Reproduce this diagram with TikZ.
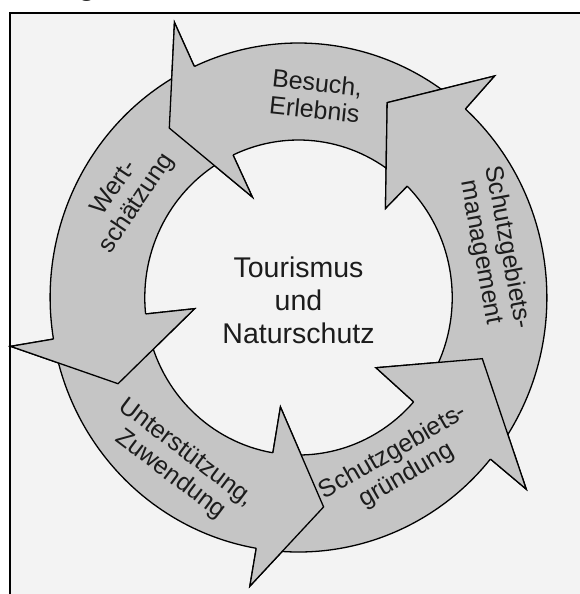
\documentclass[tikz,border=0pt]{standalone}
\usepackage{fontspec}
\setmainfont{Liberation Sans}
\definecolor{ringgray}{RGB}{197,197,197}
\definecolor{panel}{RGB}{243,243,243}
\definecolor{ink}{RGB}{28,28,28}
\newcommand\ringin{157.5}
\newcommand\ringout{254.5}
% #1 tail angle, #2/#3 base angle (inner/outer), #4/#5 barb radius (inner/outer), #6 tip angle, #7 tip radius
\newcommand\ringarrow[7]{%
  \path[band] (#1:\ringin) -- (#1:\ringout)
    arc[start angle=#1, end angle=#3, radius=\ringout]
    -- (#3:#5) -- (#6:#7) -- (#2:#4) -- (#2:\ringin)
    arc[start angle=#2, end angle=#1, radius=\ringin] -- cycle;}
\newcommand\ringhead[7]{%
  \fill[ringgray] (#3:\ringout) -- (#3:#5) -- (#6:#7) -- (#2:#4) -- (#2:\ringin) -- cycle;
  \draw[outline] (#3:\ringout) -- (#3:#5) -- (#6:#7) -- (#2:#4) -- (#2:\ringin);}
\begin{document}
\begin{tikzpicture}[x=1pt,y=-1pt,
  outline/.style={draw=black, line width=1.3pt, line join=miter},
  band/.style={outline, fill=ringgray},
  label/.style={text=ink, align=center, inner sep=0pt, font=\fontsize{25}{27}\selectfont},
  ]
\useasboundingbox (0,0) rectangle (580,594);
\fill[white] (0,0) rectangle (580,594);
% heading line above the panel (only its lowest part lies on the page)
\node[text=ink, anchor=base, inner sep=0pt, font=\bfseries\fontsize{28}{30}\selectfont] (heading) at (87,-4.5) {g};
% panel
\draw[line width=2pt, fill=panel] (10,12.7) rectangle (620,640);

% the cycle of five arrows
\begin{scope}[shift={(298.5,297.5)}, yscale=-1, xscale=0.976]
  \ringarrow{49}{115.2}{114.8}{111}{303}{128}{215}
  \ringarrow{117.5}{186}{189.4}{107}{299}{205}{204}
  \ringarrow{191.5}{260.4}{260.2}{111}{293}{277}{211}
  \ringarrow{263}{318.5}{320.6}{106}{302}{342}{198}
  \ringarrow{323.5}{405}{407.8}{126}{299}{425}{215}
  % each head lies over the tail of the following arrow
  \ringhead{49}{115.2}{114.8}{111}{303}{128}{215}
  \ringhead{117.5}{186}{189.4}{107}{299}{205}{204}
  \ringhead{191.5}{260.4}{260.2}{111}{293}{277}{211}
  \ringhead{263}{318.5}{320.6}{106}{302}{342}{198}
  \ringhead{323.5}{405}{407.8}{126}{299}{425}{215}
\end{scope}

% labels
\node[label, rotate=-6] (besuch) at (316,96) {Besuch,\\Erlebnis};
\node[label, rotate=56] (wert) at (126,196) {Wert-\\schätzung};
\node[label, rotate=-37] (unter) at (178,464) {Unterstützung,\\Zuwendung};
\node[label, rotate=30] (gruend) at (400,464) {Schutzgebiets-\\gründung};
\node[label, rotate=-79.5] (mgmt) at (494,250) {Schutzgebiets-\\management};
\node[text=ink, align=center, inner sep=0pt, font=\fontsize{28.5}{33}\selectfont] (center) at (298.5,300) {Tourismus\\und\\Naturschutz};
\end{tikzpicture}
\end{document}
